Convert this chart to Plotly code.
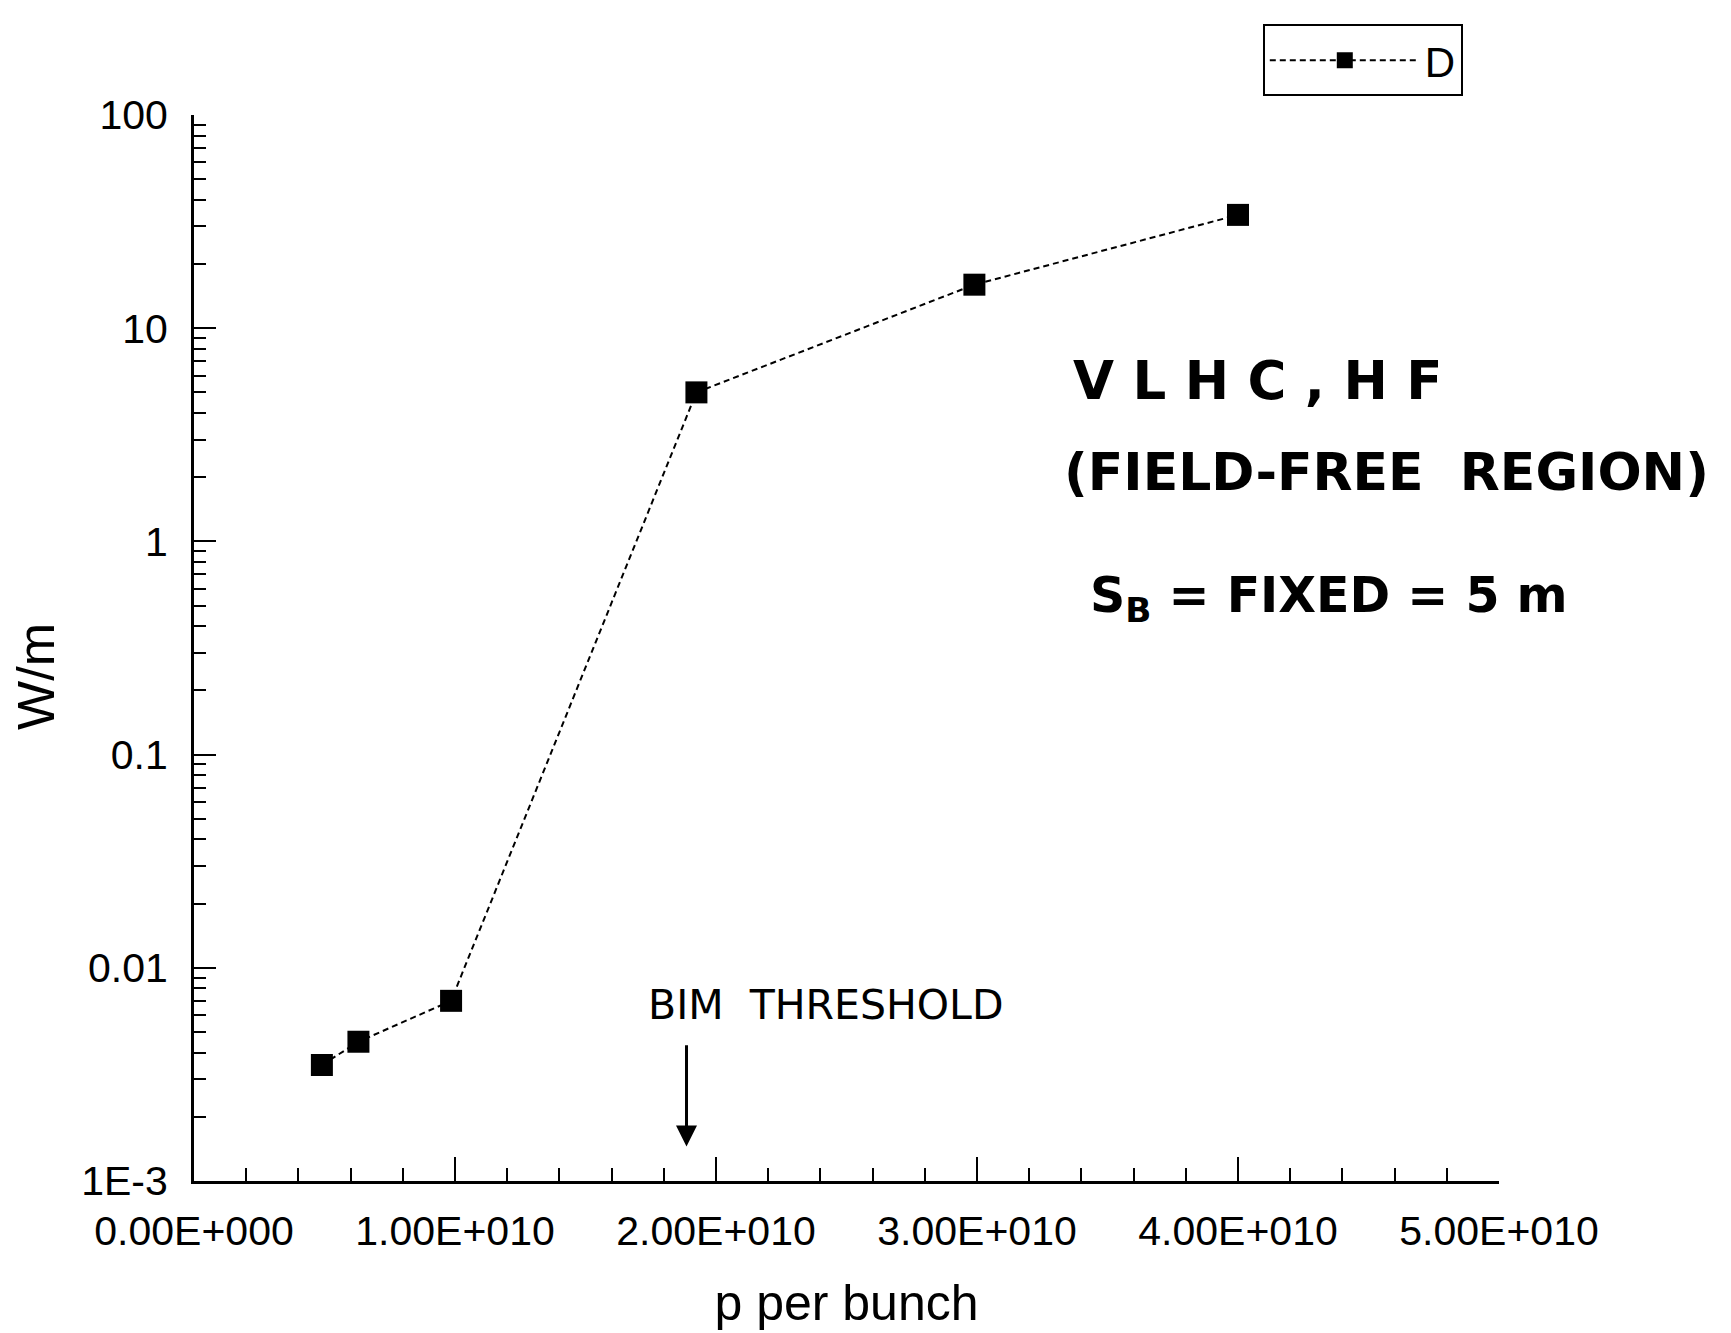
import plotly.graph_objects as go
import math

# data
p_per_bunch = [4.9e9, 6.3e9, 9.85e9, 1.925e10, 2.99e10, 4.0e10]
w_per_m = [0.0035, 0.0045, 0.0070, 5.0, 16.0, 34.0]
series_name = "D"

x_tickvals = [0, 1e10, 2e10, 3e10, 4e10, 5e10]
x_ticktext = ["0.00E+000", "1.00E+010", "2.00E+010", "3.00E+010", "4.00E+010", "5.00E+010"]
y_tickvals = [1e-3, 1e-2, 1e-1, 1, 10, 100]
y_ticktext = ["1E-3", "0.01", "0.1", "1", "10", "100"]

bim_threshold_x = 1.887e10

y_minor = [m * 10 ** e for e in range(-3, 2) for m in range(2, 10)]

fig = go.Figure()
fig.add_trace(go.Scatter(
    x=p_per_bunch, y=w_per_m, name=series_name, mode="lines+markers",
    line=dict(color="black", width=2, dash="6px,4px"),
    marker=dict(symbol="square", size=22, color="black"),
))

axis_font = dict(family="Liberation Sans, Arial, sans-serif", size=41, color="black")

fig.update_layout(
    width=1731, height=1333,
    paper_bgcolor="white", plot_bgcolor="white",
    margin=dict(l=186, r=240, t=107, b=160),
    font=dict(family="Liberation Sans, Arial, sans-serif", color="black"),
    showlegend=True,
    legend=dict(
        x=0.819, y=1.085, xanchor="left", yanchor="top",
        bordercolor="black", borderwidth=2, bgcolor="white",
        font=dict(size=42, color="black"), itemwidth=150,
        tracegroupgap=0,
    ),
    xaxis=dict(
        range=[0, 5e10], showline=True, linecolor="black", linewidth=3,
        mirror=False, showgrid=False, zeroline=False,
        tickmode="array", tickvals=x_tickvals, ticktext=x_ticktext,
        ticks="inside", ticklen=24, tickwidth=2, tickcolor="black",
        minor=dict(ticks="inside", ticklen=13, tickwidth=2, tickcolor="black", dtick=2e9, tick0=0),
        tickfont=axis_font, ticklabelstandoff=12,
        title=dict(text="p per bunch", font=dict(size=50, color="black"), standoff=32),
    ),
    yaxis=dict(
        type="log", range=[-3, 2], showline=True, linecolor="black", linewidth=3,
        mirror=False, showgrid=False, zeroline=False,
        tickmode="array", tickvals=y_tickvals, ticktext=y_ticktext,
        ticks="inside", ticklen=22, tickwidth=2, tickcolor="black",
        minor=dict(ticks="inside", ticklen=12, tickwidth=2, tickcolor="black",
                   tickmode="array", tickvals=y_minor),
        tickfont=axis_font, ticklabelstandoff=15,
    ),
)

fig.add_annotation(xref="paper", yref="paper", x=-0.121, y=0.473, xanchor="center", yanchor="middle",
                   text="W/m", textangle=-90, showarrow=False,
                   font=dict(family="Liberation Sans, Arial, sans-serif", size=52, color="black"))

hand = dict(family="DejaVu Sans, sans-serif", color="black")
fig.add_annotation(xref="paper", yref="paper", x=0.672, y=0.751, xanchor="left", yanchor="middle",
                   text="<b>V L H C , H F</b>", showarrow=False, font=dict(size=53, **hand))
fig.add_annotation(xref="paper", yref="paper", x=0.665, y=0.665, xanchor="left", yanchor="middle",
                   text="<b>(FIELD-FREE  REGION)</b>", showarrow=False, font=dict(size=52, **hand))
fig.add_annotation(xref="paper", yref="paper", x=0.685, y=0.546, xanchor="left", yanchor="middle",
                   text="<b>S<sub>B</sub> = FIXED = 5 m</b>", showarrow=False, font=dict(size=49, **hand))
fig.add_annotation(xref="paper", yref="paper", x=0.346, y=0.165, xanchor="left", yanchor="middle",
                   text="BIM  THRESHOLD", showarrow=False, font=dict(size=41, **hand))
fig.add_annotation(xref="x", yref="y", x=bim_threshold_x, y=math.log10(0.00145),
                   axref="x", ayref="y", ax=bim_threshold_x, ay=math.log10(0.0044),
                   text="", showarrow=True, arrowhead=2, arrowsize=1.4, arrowwidth=3, arrowcolor="black")

fig.write_html("out.html")
